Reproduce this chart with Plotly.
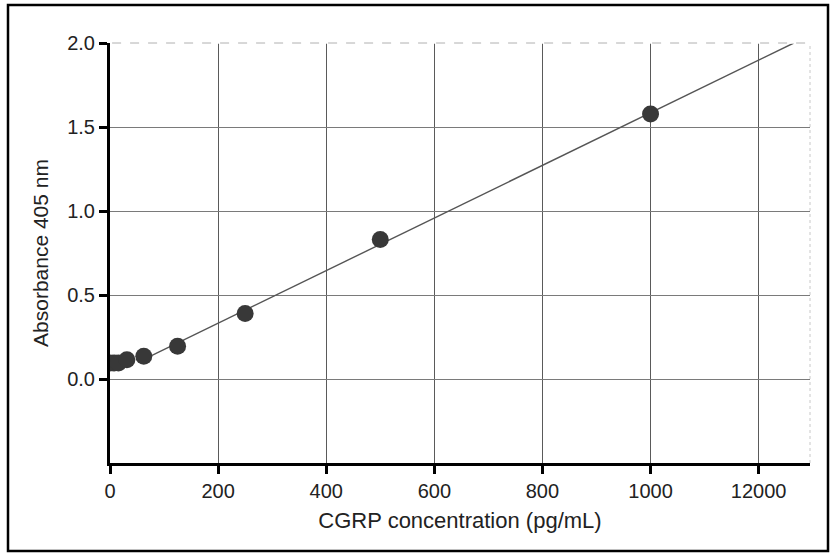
import numpy as np
import plotly.graph_objects as go

# Data
conc = [0, 7.8, 15.6, 31.25, 62.5, 125, 250, 500, 1000]
absorb = [0.095, 0.095, 0.095, 0.115, 0.135, 0.195, 0.39, 0.83, 1.577]
x_ticks = [0, 200, 400, 600, 800, 1000, 1200]
x_ticktext = ["0", "200", "400", "600", "800", "1000", "12000"]
y_ticks = [0.0, 0.5, 1.0, 1.5, 2.0]
y_ticktext = ["0.0", "0.5", "1.0", "1.5", "2.0"]

X_MAX = 1295
Y_MIN, Y_MAX = -0.5, 2.0

# Linear fit through the working range of the standard curve
fit_x = np.array(conc[4:])
fit_y = np.array(absorb[4:])
slope, intercept = np.polyfit(fit_x, fit_y, 1)
line_x = np.array([fit_x[0], (Y_MAX - intercept) / slope])
line_y = intercept + slope * line_x

font = "Liberation Sans, Arial, sans-serif"
FS = 20

fig = go.Figure()
fig.add_trace(go.Scatter(x=line_x, y=line_y, mode="lines",
                         line=dict(color="#555555", width=1.4),
                         hoverinfo="skip", showlegend=False))
fig.add_trace(go.Scatter(x=conc, y=absorb, mode="markers",
                         marker=dict(size=17, color="#383838"),
                         showlegend=False))

W, H = 834, 553
L, R, T, B = 110, 24, 43, 90
pw, ph = W - L - R, H - T - B

def px_to_paper_x(px):
    return (px - L) / pw

def px_to_paper_y(py):
    return (H - B - py) / ph

shapes = [
    # outer frame
    dict(type="rect", xref="paper", yref="paper",
         x0=px_to_paper_x(8), x1=px_to_paper_x(828),
         y0=px_to_paper_y(551), y1=px_to_paper_y(5),
         line=dict(color="black", width=2.5), layer="below"),
    # right dotted boundary
    dict(type="line", xref="paper", yref="paper", x0=1, x1=1, y0=0, y1=1,
         line=dict(color="#c8c8c8", width=1, dash="dot"), layer="below"),
    # lighter top border line at 2.0
    dict(type="line", xref="paper", yref="paper", x0=0.003, x1=1, y0=1, y1=1,
         line=dict(color="white", width=1.5), layer="above"),
    dict(type="line", xref="paper", yref="paper", x0=0.003, x1=1, y0=1, y1=1,
         line=dict(color="#b0b0b0", width=1, dash="dash"), layer="above"),
]

fig.update_layout(
    width=W, height=H,
    margin=dict(l=L, r=R, t=T, b=B),
    paper_bgcolor="white",
    plot_bgcolor="white",
    font=dict(family=font, size=FS, color="#222222"),
    shapes=shapes,
    xaxis=dict(
        range=[0, X_MAX], tickmode="array", tickvals=x_ticks, ticktext=x_ticktext,
        showgrid=True, gridcolor="#5a5a5a", gridwidth=1,
        showline=True, linecolor="black", linewidth=3,
        ticks="outside", ticklen=8, tickwidth=2.5, tickcolor="black",
        zeroline=False,
        title=dict(text="CGRP concentration (pg/mL)", font=dict(size=22), standoff=12),
        tickfont=dict(size=FS),
    ),
    yaxis=dict(
        range=[Y_MIN, Y_MAX], tickmode="array", tickvals=y_ticks, ticktext=y_ticktext,
        showgrid=True, gridcolor="#7a7a7a", gridwidth=1,
        showline=True, linecolor="black", linewidth=3,
        ticks="outside", ticklen=8, tickwidth=2.5, tickcolor="black",
        zeroline=False,
        title=dict(text="Absorbance 405 nm", font=dict(size=21), standoff=13),
        tickfont=dict(size=FS),
    ),
)

fig.write_html("out.html")
